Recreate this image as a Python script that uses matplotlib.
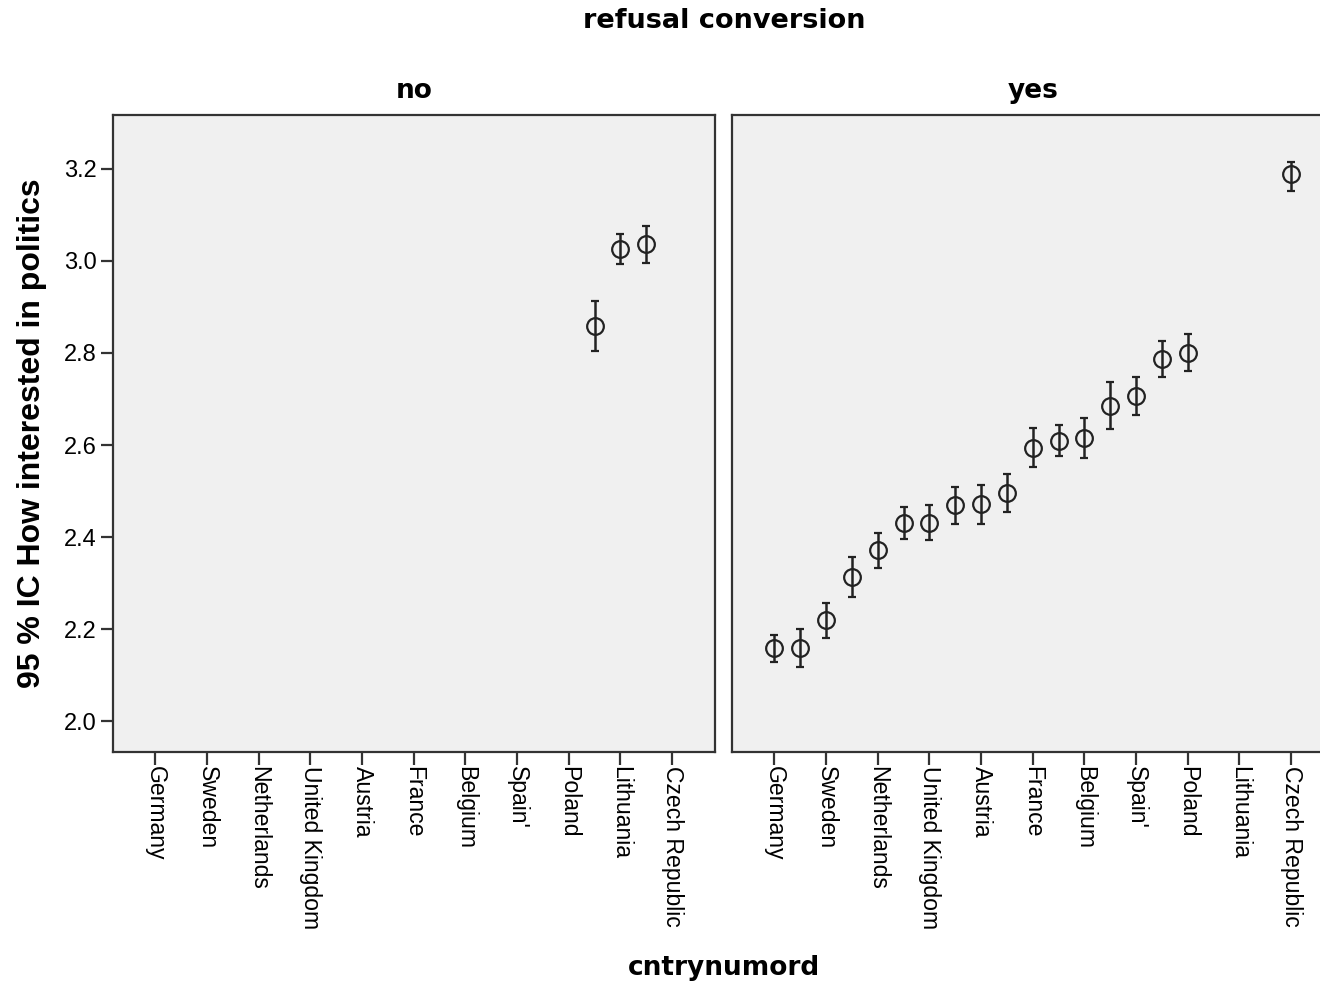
import matplotlib
matplotlib.use("Agg")
import matplotlib.pyplot as plt
import numpy as np

# 21 country categories, only every other one gets a label on the axis
labels = ["Germany", "Sweden", "Netherlands", "United Kingdom", "Austria",
          "France", "Belgium", "Spain'", "Poland", "Lithuania", "Czech Republic"]

# panel "no": category index, mean, lower CI, upper CI
no_idx = [17, 18, 19]
no_mean = [2.859, 3.026, 3.037]
no_low = [2.804, 2.993, 2.996]
no_high = [2.913, 3.059, 3.076]

# panel "yes"
yes_idx = [0, 1, 2, 3, 4, 5, 6, 7, 8, 9, 10, 11, 12, 13, 14, 15, 16, 20]
yes_mean = [2.159, 2.159, 2.220, 2.313, 2.372, 2.430, 2.430, 2.470, 2.472,
            2.496, 2.593, 2.609, 2.615, 2.685, 2.707, 2.787, 2.800, 3.189]
yes_low = [2.128, 2.117, 2.180, 2.270, 2.333, 2.396, 2.393, 2.428, 2.428,
           2.454, 2.552, 2.576, 2.572, 2.635, 2.665, 2.748, 2.761, 3.152]
yes_high = [2.187, 2.200, 2.257, 2.357, 2.409, 2.465, 2.470, 2.509, 2.513,
            2.537, 2.637, 2.643, 2.659, 2.737, 2.748, 2.826, 2.841, 3.215]

yticks = [2.0, 2.2, 2.4, 2.6, 2.8, 3.0, 3.2]

plt.rcParams['font.family'] = ['Liberation Sans', 'DejaVu Sans']

fig = plt.figure(figsize=(13.2, 9.85), dpi=100)
ax_no = fig.add_axes([113/1320, 1-752/985, 602/1320, 637/985])
ax_yes = fig.add_axes([732/1320, 1-752/985, 602/1320, 637/985])

edge = '#333333'
panels = [(ax_no, "no", no_idx, no_mean, no_low, no_high),
          (ax_yes, "yes", yes_idx, yes_mean, yes_low, yes_high)]

for ax, title, idx, mean, low, high in panels:
    ax.set_facecolor('#f0f0f0')
    mean = np.array(mean)
    err = [mean - np.array(low), np.array(high) - mean]
    ax.errorbar(idx, mean, yerr=err, fmt='o', mfc='none', mec='#222222',
                mew=1.6, ms=12, ecolor='#222222', elinewidth=1.8,
                capsize=2.6, capthick=1.8)
    ax.set_xlim(-1.64, 21.66)
    ax.set_ylim(1.933, 3.317)
    ax.set_xticks(np.arange(0, 21, 2))
    ax.set_xticklabels(labels, rotation=270, fontsize=16.6, va='top', ha='center')
    ax.tick_params(axis='x', direction='out', length=9, width=1.6,
                   color=edge, pad=1)
    for s in ax.spines.values():
        s.set_color(edge)
        s.set_linewidth(1.6)
    ax.set_title(title, fontsize=19, fontweight='bold', family='DejaVu Sans',
                 pad=12)

ax_no.set_yticks(yticks)
ax_no.set_yticklabels(["%.1f" % v for v in yticks], fontsize=17)
ax_no.tick_params(axis='y', direction='out', length=9, width=1.6, color=edge, pad=3)
ax_no.set_ylabel("95 % IC How interested in politics", fontsize=23,
                 fontweight='bold', labelpad=12)
ax_yes.set_yticks([])

fig.text(724/1320, 1-21/985, "refusal conversion", ha='center', va='center',
         fontsize=19.5, fontweight='bold', family='DejaVu Sans')
fig.text(724/1320, 1-968/985, "cntrynumord", ha='center', va='center',
         fontsize=19, fontweight='bold', family='DejaVu Sans')

fig.savefig("out.png", dpi=100)
